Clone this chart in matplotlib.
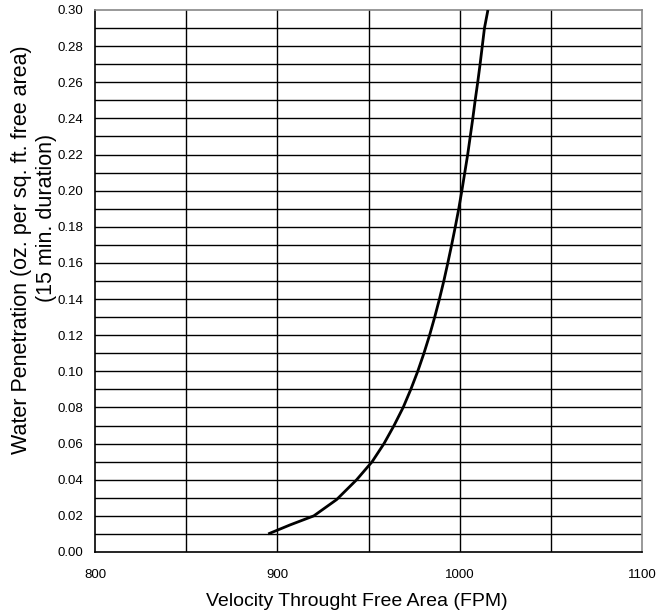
import matplotlib
matplotlib.use("Agg")
import matplotlib.pyplot as plt
import numpy as np

velocity = [895, 907, 920, 932.5, 943.5, 952, 958.5, 964, 969, 973.2, 977, 980.4, 983.5, 986.3,
            988.9, 991.3, 993.5, 995.6, 997.6, 999.5, 1001.2, 1002.8, 1004.4, 1005.8, 1007.2,
            1008.5, 1009.9, 1011.2, 1012.4, 1013.6, 1015.5]
penetration = [0.010, 0.015, 0.020, 0.029, 0.040, 0.050, 0.060, 0.070, 0.080, 0.090, 0.100, 0.110,
               0.120, 0.130, 0.140, 0.150, 0.160, 0.170, 0.180, 0.190, 0.200, 0.210, 0.220,
               0.230, 0.240, 0.250, 0.260, 0.270, 0.280, 0.290, 0.300]
x_ticks = [800, 900, 1000, 1100]
y_ticks = [0.00, 0.02, 0.04, 0.06, 0.08, 0.10, 0.12, 0.14, 0.16, 0.18, 0.20, 0.22, 0.24, 0.26, 0.28, 0.30]

fig = plt.figure(figsize=(6.57, 6.13), dpi=100)
ax = fig.add_axes([95/657, 1-552/613, (642-95)/657, (552-10)/613])

ax.set_xlim(800, 1100)
ax.set_ylim(0, 0.30)
for v in np.arange(850, 1100, 50):
    ax.axvline(v, color='black', lw=1.0, zorder=1)
for h in np.arange(0.01, 0.30, 0.01):
    ax.axhline(h, color='black', lw=1.0, zorder=1)

ax.plot(velocity, penetration, color='black', lw=2.0, zorder=3,
        solid_joinstyle='round', solid_capstyle='butt')

ax.set_xticks(x_ticks)
ax.set_xticklabels([str(t) for t in x_ticks])
ax.set_yticks(y_ticks)
ax.set_yticklabels([f"{t:.2f}" for t in y_ticks])
tick_family = ['Liberation Sans Narrow', 'Liberation Sans', 'DejaVu Sans']
for lab in ax.get_xticklabels() + ax.get_yticklabels():
    lab.set_fontfamily(tick_family)
    lab.set_fontsize(9.5)
ax.tick_params(axis='both', length=0)
ax.tick_params(axis='x', pad=12)
ax.tick_params(axis='y', pad=8.5)

for s in ['left', 'bottom']:
    ax.spines[s].set_color('black')
    ax.spines[s].set_linewidth(1.2)
for s in ['top', 'right']:
    ax.spines[s].set_color('#888888')
    ax.spines[s].set_linewidth(1.2)

lab_family = ['Liberation Sans', 'DejaVu Sans']
fig.text(357/657, 1-602/613, 'Velocity Throught Free Area (FPM)', ha='center', va='center',
         family=lab_family, fontsize=14)
fig.text(22/657, 1-250/613, 'Water Penetration (oz. per sq. ft. free area)', rotation=90,
         ha='center', va='center', family=lab_family, fontsize=15.5)
fig.text(47/657, 1-218/613, '(15 min. duration)', rotation=90,
         ha='center', va='center', family=lab_family, fontsize=15.5)

fig.savefig('out.png', dpi=100)
